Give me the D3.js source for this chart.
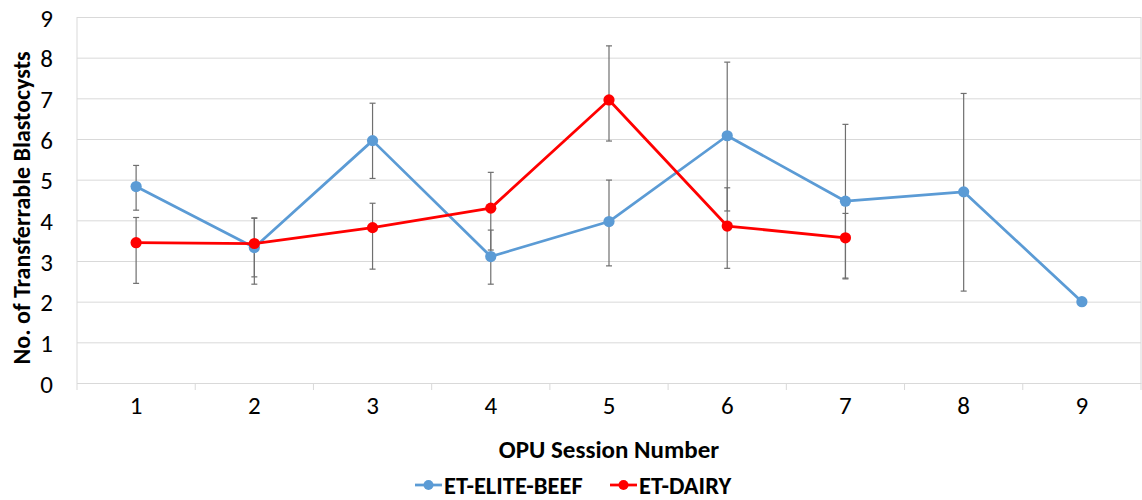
<!DOCTYPE html>
<html>
<head>
<meta charset="utf-8">
<script src="https://cdn.jsdelivr.net/npm/d3@7"></script>
<style>
  body { margin: 0; background: #fff; }
  svg text { font-family: Carlito, Calibri, Lato, "Open Sans", sans-serif; fill: #000; }
</style>
</head>
<body>
<div id="chart"></div>
<script>
// Session numbers on the x axis
const sessions = [1, 2, 3, 4, 5, 6, 7, 8, 9];
const yTicks = [0, 1, 2, 3, 4, 5, 6, 7, 8, 9];

// ET-ELITE-BEEF: mean and error bar (+ / -)
const beefMean    = [4.83, 3.33, 5.96, 3.11, 3.97, 6.08, 4.47, 4.70, 2.00];
const beefErrUp   = [0.52, 0.72, 0.92, 0.65, 1.02, 1.81, 1.89, 2.42, 0];
const beefErrDown = [0.58, 0.72, 0.93, 0.68, 1.09, 1.85, 1.89, 2.44, 0];

// ET-DAIRY (sessions 1-7 only)
const dairyMean    = [3.45, 3.43, 3.82, 4.30, 6.96, 3.86, 3.57];
const dairyErrUp   = [0.62, 0.63, 0.60, 0.88, 1.33, 0.94, 0.60];
const dairyErrDown = [1.00, 1.00, 1.02, 1.03, 1.01, 1.04, 1.01];

const seriesNames = ['ET-ELITE-BEEF', 'ET-DAIRY'];
const colors = { 'ET-ELITE-BEEF': '#5b9bd5', 'ET-DAIRY': '#ff0000' };

function buildSeries(name, means, up, down) {
    return means.map((m, i) => ({ name, session: sessions[i], value: m, hi: m + up[i], lo: m - down[i] }));
}

const series = [
    buildSeries('ET-ELITE-BEEF', beefMean, beefErrUp, beefErrDown),
    buildSeries('ET-DAIRY', dairyMean, dairyErrUp, dairyErrDown)
];

const W = 1142, H = 500;
const margin = { top: 17, right: 1, bottom: 117, left: 77 };
const plotW = W - margin.left - margin.right;
const plotH = H - margin.top - margin.bottom;

const svg = d3.select('#chart').append('svg')
    .attr('width', W)
    .attr('height', H);

const g = svg.append('g')
    .attr('transform', `translate(${margin.left},${margin.top})`);

// Scales
const x = d3.scaleBand()
    .domain(sessions)
    .range([0, plotW])
    .padding(0);
const cx = s => x(s) + x.bandwidth() / 2;

const y = d3.scaleLinear()
    .domain([0, 9])
    .range([plotH, 0]);

// Horizontal gridlines + y labels
const yAxis = g.append('g')
    .call(d3.axisLeft(y).tickValues(yTicks).tickSize(-plotW).tickPadding(24).tickFormat(d3.format('d')));
yAxis.select('.domain').remove();
yAxis.selectAll('line').attr('stroke', '#d9d9d9').attr('stroke-width', 1);
yAxis.selectAll('text')
    .style('font-size', '25px')
    .attr('dy', '0.36em');

// Plot area border (left / right)
g.append('line').attr('x1', 0).attr('x2', 0).attr('y1', 0).attr('y2', plotH).attr('stroke', '#d9d9d9');
g.append('line').attr('x1', plotW).attr('x2', plotW).attr('y1', 0).attr('y2', plotH).attr('stroke', '#d9d9d9');

// X axis: labels centred in each band, ticks on band boundaries
const xAxis = g.append('g')
    .attr('transform', `translate(0,${plotH})`)
    .call(d3.axisBottom(x).tickSize(0).tickPadding(13));
xAxis.select('.domain').attr('stroke', '#d9d9d9');
xAxis.selectAll('text').style('font-size', '25px');

const boundaries = sessions.map(s => x(s)).concat([x(sessions[sessions.length - 1]) + x.bandwidth()]);
g.append('g').selectAll('line')
    .data(boundaries)
    .enter().append('line')
    .attr('x1', d => d).attr('x2', d => d)
    .attr('y1', plotH).attr('y2', plotH + 7)
    .attr('stroke', '#d9d9d9');

// Axis titles
svg.append('text')
    .attr('transform', `translate(30,${margin.top + plotH / 2 + 8}) rotate(-90)`)
    .attr('text-anchor', 'middle')
    .style('font-size', '24px')
    .style('font-weight', 'bold')
    .text('No. of Transferrable Blastocysts');

svg.append('text')
    .attr('x', margin.left + plotW / 2)
    .attr('y', 458)
    .attr('text-anchor', 'middle')
    .style('font-size', '25px')
    .style('font-weight', 'bold')
    .text('OPU Session Number');

// Error bars
const err = g.append('g');
series.forEach(data => {
    data.filter(d => d.hi !== d.lo).forEach(d => {
        const px = cx(d.session);
        err.append('line')
            .attr('x1', px).attr('x2', px)
            .attr('y1', y(d.hi)).attr('y2', y(d.lo))
            .attr('stroke', '#6f6f6f').attr('stroke-width', 1.2);
        [d.hi, d.lo].forEach(v => {
            err.append('line')
                .attr('x1', px - 3).attr('x2', px + 3)
                .attr('y1', y(v)).attr('y2', y(v))
                .attr('stroke', '#6f6f6f').attr('stroke-width', 1.2);
        });
    });
});

// Lines and markers
const line = d3.line()
    .x(d => cx(d.session))
    .y(d => y(d.value));

series.forEach(data => {
    const c = colors[data[0].name];
    g.append('path')
        .datum(data)
        .attr('fill', 'none')
        .attr('stroke', c)
        .attr('stroke-width', 2.75)
        .attr('stroke-linejoin', 'round')
        .attr('d', line);
    g.selectAll(null)
        .data(data)
        .enter().append('circle')
        .attr('cx', d => cx(d.session))
        .attr('cy', d => y(d.value))
        .attr('r', 5.6)
        .attr('fill', c);
});

// Legend
const legendItems = [
    { name: seriesNames[0], x: 415 },
    { name: seriesNames[1], x: 610 }
];
const legend = svg.append('g').attr('transform', 'translate(0,485)');
legendItems.forEach(item => {
    const lg = legend.append('g').attr('transform', `translate(${item.x},0)`);
    lg.append('line')
        .attr('x1', 0).attr('x2', 27)
        .attr('stroke', colors[item.name])
        .attr('stroke-width', 2.75);
    lg.append('circle')
        .attr('cx', 13.5).attr('r', 5)
        .attr('fill', colors[item.name]);
    lg.append('text')
        .attr('x', 29)
        .attr('dy', '0.36em')
        .style('font-size', '24.5px')
        .style('font-weight', 'bold')
        .text(item.name);
});
</script>
</body>
</html>
